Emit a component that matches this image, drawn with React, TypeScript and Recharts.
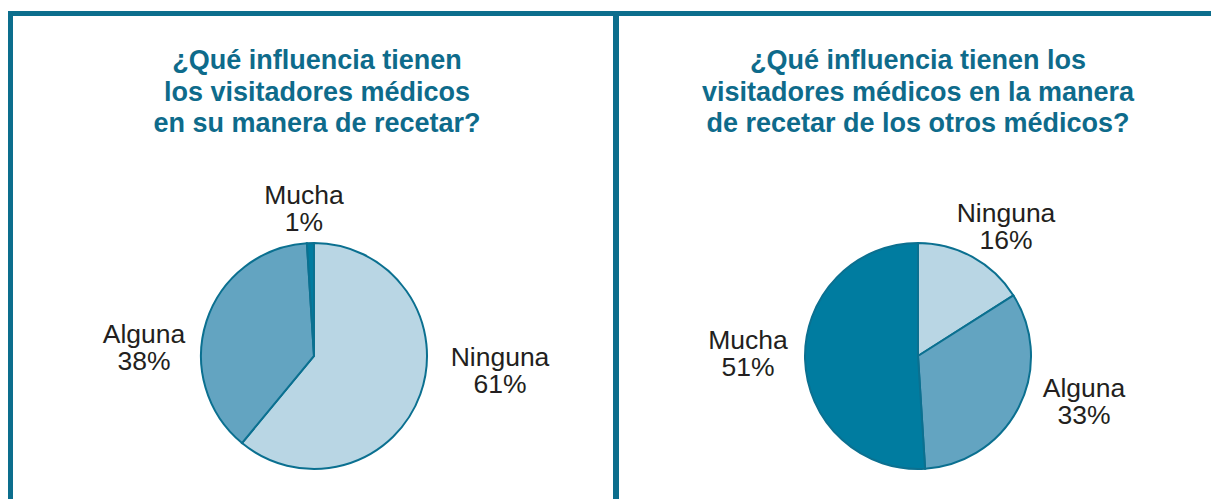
import React from 'react';
import { PieChart, Pie, Cell } from 'recharts';

const categories = ['Ninguna', 'Alguna', 'Mucha'];
const ownValues = [61, 38, 1];
const othersValues = [16, 33, 51];
const leftTitle = ['¿Qué influencia tienen', 'los visitadores médicos', 'en su manera de recetar?'];
const rightTitle = ['¿Qué influencia tienen los', 'visitadores médicos en la manera', 'de recetar de los otros médicos?'];

const COLORS = ['#b9d6e4', '#63a4c1', '#007ca0'];
const STROKE = '#0b7090';
const BORDER = '#0c6e8d';
const TITLE_COLOR = '#0e6b8b';
const LABEL_COLOR = '#231f20';
const FONT = '"Liberation Sans", Arial, Helvetica, sans-serif';

// label placement offsets relative to the pie centre (x centre, first baseline)
const LEFT_LABEL_OFFSETS = [[186, 10], [-170, -13], [-10, -152]];
const RIGHT_LABEL_OFFSETS = [[88, -134], [166, 41], [-170, -7]];

const leftData = categories.map((name, i) => ({ name, value: ownValues[i] }));
const rightData = categories.map((name, i) => ({ name, value: othersValues[i] }));

const makeLabel = (offsets: number[][]) => (props: any) => {
  const { cx, cy, index, name, value } = props;
  const [dx, dy] = offsets[index];
  const x = cx + dx;
  const y = cy + dy;
  return (
    <text
      x={x}
      y={y}
      textAnchor="middle"
      fill={LABEL_COLOR}
      fontFamily={FONT}
      fontSize={26.5}
    >
      <tspan x={x} y={y}>{name}</tspan>
      <tspan x={x} y={y + 27}>{`${value}%`}</tspan>
    </text>
  );
};

const Title = ({ lines, center }: { lines: string[]; center: number }) => (
  <div
    style={{
      position: 'absolute',
      left: center - 260,
      width: 520,
      top: 45,
      textAlign: 'center',
      fontFamily: FONT,
      fontWeight: 'bold',
      fontSize: 27,
      lineHeight: '31.5px',
      color: TITLE_COLOR,
    }}
  >
    {lines.map((l, i) => (
      <div key={i}>{l}</div>
    ))}
  </div>
);

export default function App() {
  return (
    <div style={{ position: 'absolute', left: 0, top: 0, width: 1211, height: 499, overflow: 'hidden', background: '#fff' }}>
      <div style={{ position: 'absolute', left: 0, top: 0 }}>
        <PieChart width={1211} height={499} margin={{ top: 0, right: 0, bottom: 0, left: 0 }}>
          <Pie
            data={leftData}
            dataKey="value"
            nameKey="name"
            cx={314}
            cy={356}
            outerRadius={113}
            startAngle={90}
            endAngle={-270}
            stroke={STROKE}
            strokeWidth={2}
            label={makeLabel(LEFT_LABEL_OFFSETS)}
            labelLine={false}
            isAnimationActive={false}
          >
            {leftData.map((d, i) => (
              <Cell key={d.name} fill={COLORS[i]} />
            ))}
          </Pie>
          <Pie
            data={rightData}
            dataKey="value"
            nameKey="name"
            cx={918}
            cy={356}
            outerRadius={113}
            startAngle={90}
            endAngle={-270}
            stroke={STROKE}
            strokeWidth={2}
            label={makeLabel(RIGHT_LABEL_OFFSETS)}
            labelLine={false}
            isAnimationActive={false}
          >
            {rightData.map((d, i) => (
              <Cell key={d.name} fill={COLORS[i]} />
            ))}
          </Pie>
        </PieChart>
      </div>
      <div style={{ position: 'absolute', left: 8, top: 11, width: 1203, height: 5, background: BORDER }} />
      <div style={{ position: 'absolute', left: 8, top: 11, width: 5, height: 488, background: BORDER }} />
      <div style={{ position: 'absolute', left: 613, top: 11, width: 6, height: 488, background: BORDER }} />
      <Title lines={leftTitle} center={317} />
      <Title lines={rightTitle} center={918} />
    </div>
  );
}
